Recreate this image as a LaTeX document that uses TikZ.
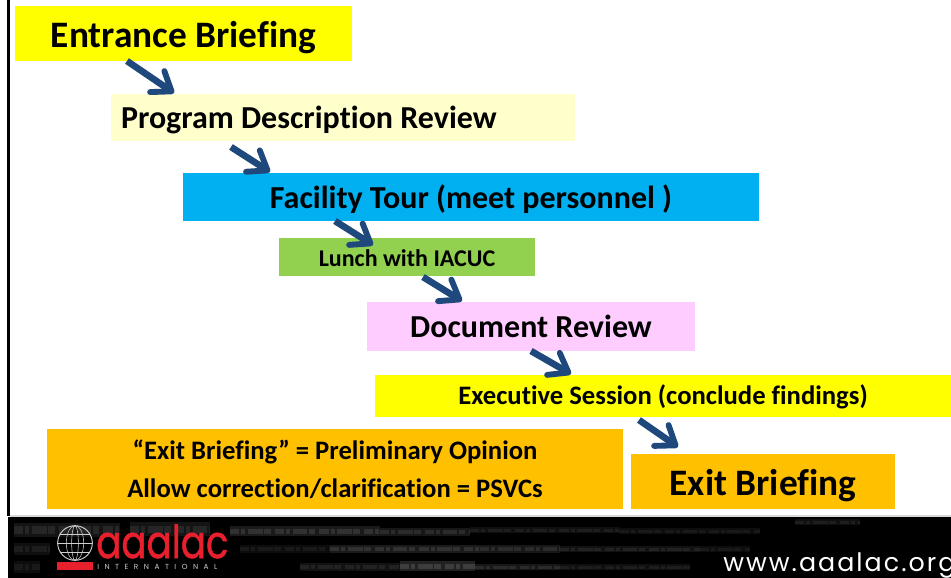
\documentclass[tikz,border=0pt]{standalone}
\usepackage{fontspec}
\setmainfont[Ligatures=NoCommon]{Carlito}
\newfontfamily\logofont{Poppins}
\usetikzlibrary{arrows.meta,calc}
\definecolor{arrowblue}{HTML}{1F497D}
\definecolor{logored}{HTML}{E8202E}
\definecolor{ybox}{HTML}{FFFF00}
\definecolor{pbox}{HTML}{FFFFCC}
\definecolor{fbox}{HTML}{00B0F0}
\definecolor{lbox}{HTML}{92D050}
\definecolor{dbox}{HTML}{FFCCFF}
\definecolor{obox}{HTML}{FFC000}
\definecolor{globeline}{HTML}{D0D0D0}
\newcommand{\txt}[1]{\fontsize{#1pt}{#1pt}\selectfont\bfseries}
\tikzset{
  x=0.75pt,y=-0.75pt,
  stepbox/.style={anchor=north west,inner sep=0pt,outer sep=0pt,text=black,align=center},
  size/.style 2 args={minimum width=#1*0.75pt,minimum height=#2*0.75pt},
  baseoff/.style={text height=#1,text depth=0pt},
  flow/.style={draw=arrowblue,line width=5pt,line cap=butt,-{Straight Barb[length=13pt,width=19pt,line width=4.4pt,round]}},
  glb/.style={draw=globeline,line width=.4pt},
}
\begin{document}
\begin{tikzpicture}
\useasboundingbox (0,0) rectangle (951,578);
\fill[white] (0,0) rectangle (951,578);
% slide frame
\fill[black] (7.2,0) rectangle (10,516);
\fill[black] (8,517) rectangle (951,578);
\fill[black!15] (10,515) rectangle (951,517);
% streaks
\begin{scope}
\clip (8,517) rectangle (951,578);
\foreach \a/\b/\y/\h/\o in {
 14/120/530/8/.08, 130/210/529/7/.08, 230/380/531/5/.1, 380/470/532/4/.09, 470/620/530/3/.06, 620/760/531/3/.05, 795/860/522/3/.06,
 14/50/549/6/.06, 240/330/549/4/.05, 330/480/549/4/.1, 480/560/549/4/.09, 560/700/549/3/.07, 700/750/549/3/.05,
 14/40/567/6/.05, 300/400/567/4/.07, 400/475/566/5/.13, 475/560/567/3/.09, 560/690/567/3/.06}
 {\draw[white,opacity=\o,line width=\h*0.75pt,dash pattern=on 7pt off 1.5pt on 3pt off 2pt on 11pt off 1pt on 5pt off 3pt] (\a,\y) -- (\b,\y);
  \draw[white,opacity=\o,line width=\h*1.4pt] (\a,\y) -- (\b,\y);}
\end{scope}
% boxes
\node[stepbox,fill=ybox,size={337}{55},baseoff=20.25pt] (a) at (15,6) {\txt{28}Entrance Briefing};
\node[stepbox,fill=pbox,size={464}{47},baseoff=16pt] (b) at (111,94) {\makebox[348pt][l]{\hspace{7.5pt}\txt{24}Program Description Review}};
\node[stepbox,fill=fbox,size={576}{48},baseoff=17pt] (c) at (183,173) {\txt{24}Facility Tour (meet personnel )};
\node[stepbox,fill=lbox,size={256}{38},baseoff=14.85pt] (d) at (279,238) {\txt{18}Lunch with IACUC};
\node[stepbox,fill=dbox,size={328}{49},baseoff=17.1pt] (e) at (367,302) {\txt{24}Document Review};
\node[stepbox,fill=ybox,size={576}{42},baseoff=12.5pt] (f) at (375,375) {\txt{20}Executive Session (conclude findings)};
\node[stepbox,fill=obox,size={576}{80}] (g) at (47,429) {\txt{20}“Exit Briefing” = Preliminary Opinion\\[10pt]\txt{20}Allow correction/clarification = PSVCs};
\node[stepbox,fill=obox,size={264}{55},baseoff=21pt] (i) at (631,454) {\txt{28}Exit Briefing};
% arrows
\draw[flow] ($(a.south west)+(112,0)$) -- ($(b.north west)+(63,-1)$);
\draw[flow] ($(b.south west)+(120,6)$) -- ($(c.north west)+(87,-1)$);
\draw[flow] ($(c.south west)+(152,0)$) -- ($(d.north west)+(94,7)$);
\draw[flow] ($(d.south west)+(144,1)$) -- ($(e.north west)+(95,-1)$);
\draw[flow] ($(e.south west)+(164,0)$) -- ($(f.north west)+(196,-1)$);
\draw[flow] ($(f.south west)+(264,3)$) -- ($(i.north west)+(47,-7)$);
% logo
\node[draw=globeline,circle,minimum size=26pt,inner sep=0pt,line width=.7pt] (globe) at (75,543) {};
\draw[glb] (globe.center) ellipse (6.5pt and 13pt);
\draw[glb] (globe.center) ellipse (2.5pt and 13pt);
\draw[glb] ($(globe.west)+(2.5,-9)$) -- ($(globe.east)+(-2.5,-9)$);
\draw[glb] (globe.west) -- (globe.east);
\draw[glb] ($(globe.west)+(2.5,9)$) -- ($(globe.east)+(-2.5,9)$);
\fill[logored] (57,562) rectangle (93,570);
\node[text=logored,anchor=base west,inner sep=0pt] (logo) at (96,558) {\scalebox{0.82}[1]{\logofont\addfontfeature{FakeBold=1.2}\fontsize{34pt}{36pt}\selectfont aaalac}};
\node[text=white!80!black,anchor=base west,inner sep=0pt] (intl) at (97,569) {\logofont\addfontfeature{LetterSpace=75}\fontsize{5.5pt}{6pt}\selectfont INTERNATIONAL};
\node[text=white,anchor=base west,inner sep=0pt] (web) at (723,571) {\logofont\addfontfeature{LetterSpace=8}\fontsize{19pt}{24pt}\selectfont www.aaalac.org};
\end{tikzpicture}
\end{document}
